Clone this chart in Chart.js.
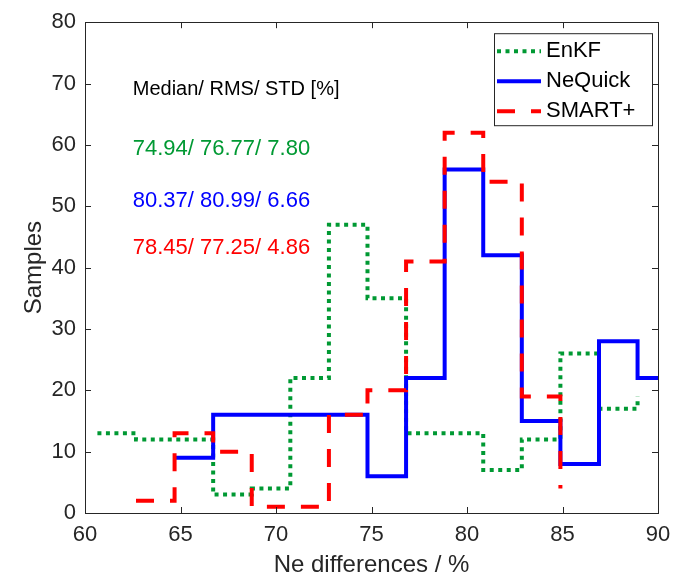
<!DOCTYPE html>
<html>
<head>
<meta charset="utf-8">
<script src="https://cdn.jsdelivr.net/npm/chart.js@4"></script>
<style>
  body { margin: 0; background: #fff; }
  canvas { display: block; }
</style>
</head>
<body>
<canvas id="histChart" width="683" height="580"></canvas>
<script>
// bin edges (stairs x positions) and sample counts per edge
const edges = [60.65, 62.67, 64.69, 66.71, 68.73, 70.75, 72.77, 74.79, 76.81, 78.83, 80.85, 82.87, 84.89, 86.91, 88.93, 90.95];
const enkfCounts = [13, 12, 12, 3, 4, 22, 47, 35, 13, 13, 7, 12, 26, 17, 19, null];
const nequickCounts = [null, null, 9, 16, 16, 16, 16, 6, 22, 56, 42, 15, 8, 28, 22, 22];
const smartCounts = [null, 2, 13, 10, 1, 1, 16, 20, 41, 62, 54, 19, 4, null, null, null];

const seriesNames = ['EnKF', 'NeQuick', 'SMART+'];
const statsHeader = 'Median/ RMS/ STD [%]';
const statsLines = ['74.94/ 76.77/ 7.80', '80.37/ 80.99/ 6.66', '78.45/ 77.25/ 4.86'];

const GREEN = 'rgb(0,153,51)';
const BLUE = 'rgb(0,0,255)';
const RED = 'rgb(255,0,0)';
const AXIS = '#262626';
const FONT = '"Liberation Sans", Arial, sans-serif';

function toPoints(counts) {
    return edges.map((x, i) => ({ x: x, y: counts[i] }));
}

const styles = [
    { color: GREEN, dash: [4, 4.5] },
    { color: BLUE, dash: [] },
    { color: RED, dash: [18, 16] }
];

// frame, inside ticks, legend box and stats text
const decorations = {
    id: 'decorations',
    afterDatasetsDraw(chart) {
        const { ctx, chartArea: a, scales } = chart;
        const xs = scales.x, ys = scales.y;
        ctx.save();

        // stats text (placed in data coordinates)
        ctx.textBaseline = 'middle';
        ctx.textAlign = 'left';
        ctx.fillStyle = '#000';
        ctx.font = '20px ' + FONT;
        ctx.fillText(statsHeader, xs.getPixelForValue(62.5), ys.getPixelForValue(69.1));
        const statY = [59.4, 50.9, 43.2];
        ctx.font = '22px ' + FONT;
        statsLines.forEach((t, i) => {
            ctx.fillStyle = styles[i].color;
            ctx.fillText(t, xs.getPixelForValue(62.5), ys.getPixelForValue(statY[i]));
        });

        // frame
        ctx.strokeStyle = AXIS;
        ctx.lineWidth = 1;
        ctx.strokeRect(Math.round(a.left) + 0.5, Math.round(a.top) + 0.5,
            Math.round(a.right - a.left), Math.round(a.bottom - a.top));

        // ticks inside on all four sides
        const tl = 6;
        ctx.beginPath();
        xs.ticks.forEach(t => {
            const px = Math.round(xs.getPixelForValue(t.value)) + 0.5;
            ctx.moveTo(px, a.bottom); ctx.lineTo(px, a.bottom - tl);
            ctx.moveTo(px, a.top); ctx.lineTo(px, a.top + tl);
        });
        ys.ticks.forEach(t => {
            const py = Math.round(ys.getPixelForValue(t.value)) + 0.5;
            ctx.moveTo(a.left, py); ctx.lineTo(a.left + tl, py);
            ctx.moveTo(a.right, py); ctx.lineTo(a.right - tl, py);
        });
        ctx.stroke();

        // legend box
        const bx = a.right - 164, by = a.top + 11, bw = 158, bh = 92;
        ctx.fillStyle = '#fff';
        ctx.fillRect(bx, by, bw, bh);
        ctx.strokeStyle = AXIS;
        ctx.strokeRect(bx + 0.5, by + 0.5, bw, bh);
        ctx.font = '22px ' + FONT;
        ctx.textBaseline = 'middle';
        seriesNames.forEach((name, i) => {
            const y = by + 18 + i * 30;
            ctx.strokeStyle = styles[i].color;
            ctx.lineWidth = 4;
            ctx.setLineDash(styles[i].dash);
            ctx.beginPath();
            ctx.moveTo(bx + 3, y);
            ctx.lineTo(bx + 47, y);
            ctx.stroke();
            ctx.setLineDash([]);
            ctx.fillStyle = '#000';
            ctx.fillText(name, bx + 52, y);
        });
        ctx.restore();
    }
};

const datasets = [enkfCounts, nequickCounts, smartCounts].map((counts, i) => ({
    label: seriesNames[i],
    data: toPoints(counts),
    borderColor: styles[i].color,
    borderDash: styles[i].dash,
    borderWidth: 4,
    borderJoinStyle: 'miter',
    stepped: true,
    pointRadius: 0,
    fill: false,
    spanGaps: false,
    clip: 0,
    order: 3 - i
}));

new Chart(document.getElementById('histChart'), {
    type: 'line',
    data: { datasets: datasets },
    options: {
        responsive: false,
        animation: false,
        layout: { padding: { top: 13, right: 25, left: 0, bottom: 0 } },
        plugins: { legend: { display: false }, tooltip: { enabled: false } },
        scales: {
            x: {
                type: 'linear',
                min: 60,
                max: 90,
                grid: { display: false, drawTicks: false },
                border: { display: false },
                ticks: { stepSize: 5, padding: 9, color: AXIS, font: { family: FONT, size: 22 } },
                title: {
                    display: true,
                    text: 'Ne differences / %',
                    color: AXIS,
                    font: { family: FONT, size: 24 },
                    padding: { top: 0, bottom: 0 }
                },
                afterFit: s => { s.height = 67; }
            },
            y: {
                min: 0,
                max: 80,
                grid: { display: false, drawTicks: false },
                border: { display: false },
                ticks: { stepSize: 10, padding: 9, color: AXIS, font: { family: FONT, size: 22 } },
                title: {
                    display: true,
                    text: 'Samples',
                    color: AXIS,
                    font: { family: FONT, size: 24 },
                    padding: { top: 20, bottom: 0 }
                },
                afterFit: s => { s.width = 85; }
            }
        }
    },
    plugins: [decorations]
});
</script>
</body>
</html>
